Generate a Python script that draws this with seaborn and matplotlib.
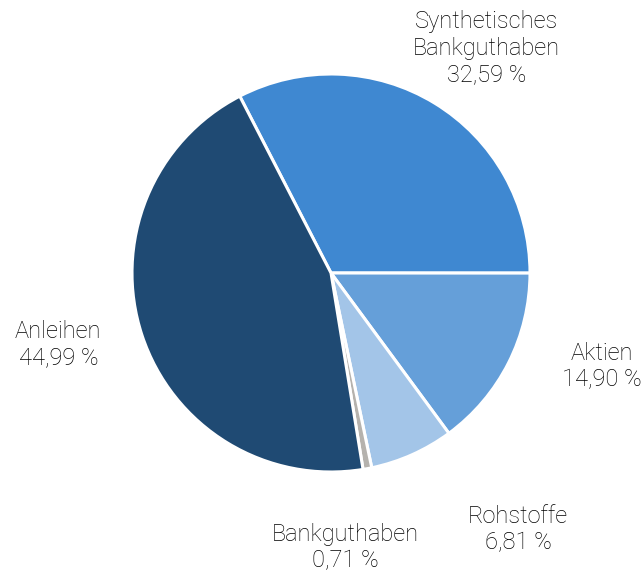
import matplotlib
matplotlib.use("Agg")
import matplotlib.pyplot as plt
import seaborn as sns

# daten
kategorien = ["Synthetisches\nBankguthaben", "Aktien", "Rohstoffe", "Bankguthaben", "Anleihen"]
anteile = [32.59, 14.90, 6.81, 0.71, 44.99]
farben = ["#3f88d1", "#659fd9", "#a3c5e8", "#b5b2ad", "#1f4a73"]

# label positionen (in radius-einheiten, relativ zum kreismittelpunkt)
label_pos = [(0.78, 1.13), (1.36, -0.47), (0.94, -1.29), (0.07, -1.38), (-1.37, -0.36)]

sns.set_theme(style="white")
plt.rcParams["font.family"] = ["Roboto", "DejaVu Sans"]

fig = plt.figure(figsize=(6.43, 5.77), dpi=100)
ax = fig.add_axes([0, 0, 1, 1])

r_px = 199
cx, cy = 331, 273
ax.pie(anteile, colors=farben, startangle=117.3, counterclock=False,
       wedgeprops=dict(edgecolor="white", linewidth=2.2))

for name, wert, (x, y) in zip(kategorien, anteile, label_pos):
    txt = f"{name}\n{wert:.2f} %".replace(".", ",")
    ax.text(x, y, txt, ha="center", va="center", fontsize=17,
            fontweight="light", color="#000000", linespacing=1.2)

ax.set_xlim(-cx / r_px, (643 - cx) / r_px)
ax.set_ylim(-(577 - cy) / r_px, cy / r_px)
ax.set_aspect("equal")
ax.axis("off")

plt.savefig("out.png", dpi=100)
